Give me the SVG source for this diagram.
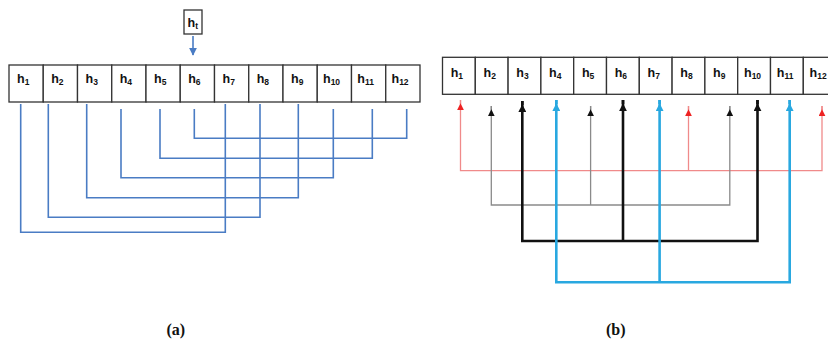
<svg xmlns="http://www.w3.org/2000/svg" width="828" height="340" viewBox="0 0 828 340">
<style>
.box{fill:#fff;stroke:#333;stroke-width:1.3}
.lbl{font-family:"Liberation Sans",Arial,sans-serif;font-weight:bold;font-size:12.5px;fill:#111}
.sub{font-size:8.5px}
.cap{font-family:"Liberation Serif","Times New Roman",serif;font-weight:bold;font-size:16px;fill:#111}
.ba{fill:none;stroke:#4a7cc4;stroke-width:1.6}
.red{fill:none;stroke:#f08a8a;stroke-width:1.3}
.gray{fill:none;stroke:#8a8a8a;stroke-width:1.3}
.blk{fill:none;stroke:#111;stroke-width:2.6}
.blu{fill:none;stroke:#29a8e0;stroke-width:2.6}
</style>
<defs>
<marker id="mA" viewBox="0 0 10 10" refX="5" refY="9" markerWidth="8" markerHeight="8" markerUnits="userSpaceOnUse" orient="0"><path d="M0,0 L10,0 L5,10 z" fill="#4a7cc4"/></marker>
<marker id="mR" viewBox="0 0 10 10" refX="5" refY="1" markerWidth="7" markerHeight="7" markerUnits="userSpaceOnUse" orient="0"><path d="M0,10 L10,10 L5,0 z" fill="#ee2222"/></marker>
<marker id="mG" viewBox="0 0 10 10" refX="5" refY="1" markerWidth="7" markerHeight="7" markerUnits="userSpaceOnUse" orient="0"><path d="M0,10 L10,10 L5,0 z" fill="#111"/></marker>
<marker id="mK" viewBox="0 0 10 10" refX="5" refY="1" markerWidth="8" markerHeight="8" markerUnits="userSpaceOnUse" orient="0"><path d="M0,10 L10,10 L5,0 z" fill="#111"/></marker>
<marker id="mB" viewBox="0 0 10 10" refX="5" refY="1" markerWidth="8" markerHeight="8" markerUnits="userSpaceOnUse" orient="0"><path d="M0,10 L10,10 L5,0 z" fill="#29a8e0"/></marker>
</defs>

<!-- Panel (a) -->
<g id="ht">
<rect class="box" x="184" y="10" width="18" height="24"/>
<text class="lbl" x="187.5" y="27">h<tspan class="sub" dy="2">t</tspan></text>
</g>
<g id="a-cells">
<g id="a-h1"><rect class="box" x="9" y="65" width="34.25" height="37"/><text class="lbl" x="17" y="83">h<tspan class="sub" dy="2">1</tspan></text></g>
<g id="a-h2"><rect class="box" x="43.25" y="65" width="34.25" height="37"/><text class="lbl" x="51.2" y="83">h<tspan class="sub" dy="2">2</tspan></text></g>
<g id="a-h3"><rect class="box" x="77.5" y="65" width="34.25" height="37"/><text class="lbl" x="85.5" y="83">h<tspan class="sub" dy="2">3</tspan></text></g>
<g id="a-h4"><rect class="box" x="111.75" y="65" width="34.25" height="37"/><text class="lbl" x="119.7" y="83">h<tspan class="sub" dy="2">4</tspan></text></g>
<g id="a-h5"><rect class="box" x="146" y="65" width="34.25" height="37"/><text class="lbl" x="154" y="83">h<tspan class="sub" dy="2">5</tspan></text></g>
<g id="a-h6"><rect class="box" x="180.25" y="65" width="34.25" height="37"/><text class="lbl" x="188.2" y="83">h<tspan class="sub" dy="2">6</tspan></text></g>
<g id="a-h7"><rect class="box" x="214.5" y="65" width="34.25" height="37"/><text class="lbl" x="222.5" y="83">h<tspan class="sub" dy="2">7</tspan></text></g>
<g id="a-h8"><rect class="box" x="248.75" y="65" width="34.25" height="37"/><text class="lbl" x="256.7" y="83">h<tspan class="sub" dy="2">8</tspan></text></g>
<g id="a-h9"><rect class="box" x="283" y="65" width="34.25" height="37"/><text class="lbl" x="291" y="83">h<tspan class="sub" dy="2">9</tspan></text></g>
<g id="a-h10"><rect class="box" x="317.25" y="65" width="34.25" height="37"/><text class="lbl" x="323" y="83">h<tspan class="sub" dy="2">10</tspan></text></g>
<g id="a-h11"><rect class="box" x="351.5" y="65" width="34.25" height="37"/><text class="lbl" x="357.3" y="83">h<tspan class="sub" dy="2">11</tspan></text></g>
<g id="a-h12"><rect class="box" x="385.75" y="65" width="34.25" height="37"/><text class="lbl" x="391.5" y="83">h<tspan class="sub" dy="2">12</tspan></text></g>
</g>
<g id="a-connectors">
<line class="ba" x1="193" y1="36" x2="193" y2="55" marker-end="url(#mA)"/>
<path class="ba" d="M194.3,109 V138.3 H406.7 V109"/>
<path class="ba" d="M160,109 V158.3 H372.3 V109"/>
<path class="ba" d="M121,109 V177.7 H333.3 V109"/>
<path class="ba" d="M86.7,104 V197.7 H298.3 V104"/>
<path class="ba" d="M48.3,104 V217.3 H260 V104"/>
<path class="ba" d="M20.7,104 V232.3 H225.3 V104"/>
</g>
<text class="cap" x="175.8" y="335" text-anchor="middle">(a)</text>

<!-- Panel (b) -->
<g id="b-cells">
<g id="b-h1"><rect class="box" x="442.5" y="57.3" width="32.8" height="37"/><text class="lbl" x="450.7" y="76.5">h<tspan class="sub" dy="2">1</tspan></text></g>
<g id="b-h2"><rect class="box" x="475.3" y="57.3" width="32.8" height="37"/><text class="lbl" x="483.5" y="76.5">h<tspan class="sub" dy="2">2</tspan></text></g>
<g id="b-h3"><rect class="box" x="508.1" y="57.3" width="32.8" height="37"/><text class="lbl" x="516.3" y="76.5">h<tspan class="sub" dy="2">3</tspan></text></g>
<g id="b-h4"><rect class="box" x="540.9" y="57.3" width="32.8" height="37"/><text class="lbl" x="549.1" y="76.5">h<tspan class="sub" dy="2">4</tspan></text></g>
<g id="b-h5"><rect class="box" x="573.7" y="57.3" width="32.8" height="37"/><text class="lbl" x="581.9" y="76.5">h<tspan class="sub" dy="2">5</tspan></text></g>
<g id="b-h6"><rect class="box" x="606.5" y="57.3" width="32.8" height="37"/><text class="lbl" x="614.7" y="76.5">h<tspan class="sub" dy="2">6</tspan></text></g>
<g id="b-h7"><rect class="box" x="639.3" y="57.3" width="32.8" height="37"/><text class="lbl" x="647.5" y="76.5">h<tspan class="sub" dy="2">7</tspan></text></g>
<g id="b-h8"><rect class="box" x="672.1" y="57.3" width="32.8" height="37"/><text class="lbl" x="680.3" y="76.5">h<tspan class="sub" dy="2">8</tspan></text></g>
<g id="b-h9"><rect class="box" x="704.9" y="57.3" width="32.8" height="37"/><text class="lbl" x="713.1" y="76.5">h<tspan class="sub" dy="2">9</tspan></text></g>
<g id="b-h10"><rect class="box" x="737.7" y="57.3" width="32.8" height="37"/><text class="lbl" x="744" y="76.5">h<tspan class="sub" dy="2">10</tspan></text></g>
<g id="b-h11"><rect class="box" x="770.5" y="57.3" width="32.8" height="37"/><text class="lbl" x="776.8" y="76.5">h<tspan class="sub" dy="2">11</tspan></text></g>
<g id="b-h12"><rect class="box" x="803.3" y="57.3" width="32.8" height="37"/><text class="lbl" x="809.6" y="76.5">h<tspan class="sub" dy="2">12</tspan></text></g>
</g>
<g id="b-connectors">
<path class="red" d="M460.5,100 V170.7 H822 V106"/>
<path class="red" d="M688.5,106 V170.7"/>
<path class="gray" d="M491.3,106 V205 H729.8 V106"/>
<path class="gray" d="M590.6,106 V205"/>
<path class="blk" d="M522.3,101 V241 H757.5 V100"/>
<path class="blk" d="M623,100 V241"/>
<path class="blu" d="M556.3,100 V282.3 H789.7 V100"/>
<path class="blu" d="M659.6,100 V282.3"/>
<g id="b-heads">
<line class="red" x1="460.5" y1="104" x2="460.5" y2="100" marker-start="url(#mR)"/>
<line class="red" x1="688.5" y1="110" x2="688.5" y2="106" marker-start="url(#mR)"/>
<line class="red" x1="822" y1="110" x2="822" y2="106" marker-start="url(#mR)"/>
<line class="gray" x1="491.3" y1="110" x2="491.3" y2="106" marker-start="url(#mG)"/>
<line class="gray" x1="590.6" y1="110" x2="590.6" y2="106" marker-start="url(#mG)"/>
<line class="gray" x1="729.8" y1="110" x2="729.8" y2="106" marker-start="url(#mG)"/>
<line class="blk" x1="522.3" y1="105" x2="522.3" y2="101" marker-start="url(#mK)"/>
<line class="blk" x1="623" y1="104" x2="623" y2="100" marker-start="url(#mK)"/>
<line class="blk" x1="757.5" y1="104" x2="757.5" y2="100" marker-start="url(#mK)"/>
<line class="blu" x1="556.3" y1="104" x2="556.3" y2="100" marker-start="url(#mB)"/>
<line class="blu" x1="659.6" y1="104" x2="659.6" y2="100" marker-start="url(#mB)"/>
<line class="blu" x1="789.7" y1="104" x2="789.7" y2="100" marker-start="url(#mB)"/>
</g>
</g>
<text class="cap" x="615.8" y="335" text-anchor="middle">(b)</text>
</svg>
